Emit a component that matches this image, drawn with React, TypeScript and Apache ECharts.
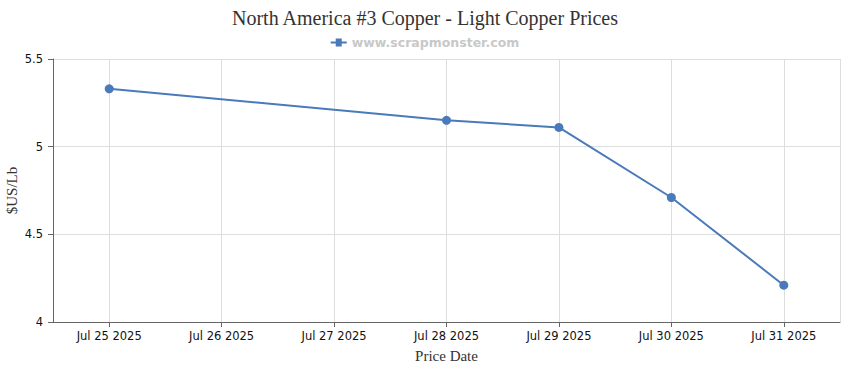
import React, { useEffect, useRef } from "react";
import * as echarts from "echarts";

const dates: [number, number, number][] = [
  [2025, 7, 25],
  [2025, 7, 28],
  [2025, 7, 29],
  [2025, 7, 30],
  [2025, 7, 31],
];
const prices: number[] = [5.33, 5.15, 5.11, 4.71, 4.21];
const axisStart: [number, number, number, number] = [2025, 7, 24, 12];
const axisEnd: [number, number, number, number] = [2025, 7, 31, 12];
const monthNames = ["Jan", "Feb", "Mar", "Apr", "May", "Jun", "Jul", "Aug", "Sep", "Oct", "Nov", "Dec"];

const DAY = 86400000;

export default function App() {
  const ref = useRef<HTMLDivElement>(null);
  useEffect(() => {
    if (!ref.current) return;
    const chart = echarts.init(ref.current, undefined, { renderer: "svg" });
    const data = dates.map((d, i) => [new Date(d[0], d[1] - 1, d[2]).getTime(), prices[i]]);
    chart.setOption({
      animation: false,
      title: {
        text: "North America #3 Copper - Light Copper Prices",
        left: "center",
        top: 3,
        textStyle: { fontFamily: "Liberation Serif", fontSize: 20, fontWeight: "normal", color: "#333" },
      },
      legend: {
        top: 31,
        left: "center",
        itemWidth: 16,
        itemHeight: 8,
        itemGap: 6,
        textStyle: { fontFamily: "DejaVu Sans", fontSize: 12.5, fontWeight: "bold", color: "#c8c8c8" },
        data: [{ name: "www.scrapmonster.com", icon: "path://M0,3h5v-3h6v3h5v2h-5v3h-6v-3h-5z" }],
      },
      grid: { left: 53, right: 10, top: 59, bottom: 48, containLabel: false, outerBoundsMode: "none" },
      xAxis: {
        type: "time",
        min: new Date(axisStart[0], axisStart[1] - 1, axisStart[2], axisStart[3]).getTime(),
        max: new Date(axisEnd[0], axisEnd[1] - 1, axisEnd[2], axisEnd[3]).getTime(),
        minInterval: DAY,
        maxInterval: DAY,
        name: "Price Date",
        nameLocation: "middle",
        nameGap: 26,
        nameMoveOverlap: false,
        nameTextStyle: { fontFamily: "Liberation Serif", fontSize: 15, color: "#333" },
        axisLine: { show: true, lineStyle: { color: "#666", width: 1 } },
        axisTick: { show: true, length: 5, lineStyle: { color: "#666" } },
        axisLabel: {
          fontFamily: "DejaVu Sans",
          fontSize: 11.5,
          color: "#111",
          margin: 8,
          showMinLabel: false,
          showMaxLabel: false,
          formatter: (v: number) => {
            const d = new Date(v);
            return `${monthNames[d.getMonth()]} ${d.getDate()} ${d.getFullYear()}`;
          },
        },
        splitLine: { show: true, lineStyle: { color: "#ddd", width: 1 } },
      },
      yAxis: {
        type: "value",
        min: 4,
        max: 5.5,
        interval: 0.5,
        name: "$US/Lb",
        nameLocation: "middle",
        nameGap: 34,
        nameMoveOverlap: false,
        nameTextStyle: { fontFamily: "Liberation Serif", fontSize: 15, color: "#333" },
        axisLine: { show: true, lineStyle: { color: "#666", width: 1 } },
        axisTick: { show: true, length: 5, lineStyle: { color: "#666" } },
        axisLabel: { fontFamily: "DejaVu Sans", fontSize: 11.5, color: "#111", margin: 10 },
        splitLine: { show: true, lineStyle: { color: "#ddd", width: 1 } },
      },
      series: [
        {
          name: "www.scrapmonster.com",
          type: "line",
          data,
          symbol: "circle",
          symbolSize: 9,
          itemStyle: { color: "#4a7ab9" },
          lineStyle: { color: "#4a7ab9", width: 2 },
        },
      ],
    });
    return () => chart.dispose();
  }, []);
  return <div ref={ref} style={{ width: 850, height: 370, position: "absolute", left: 0, top: 0 }} />;
}
